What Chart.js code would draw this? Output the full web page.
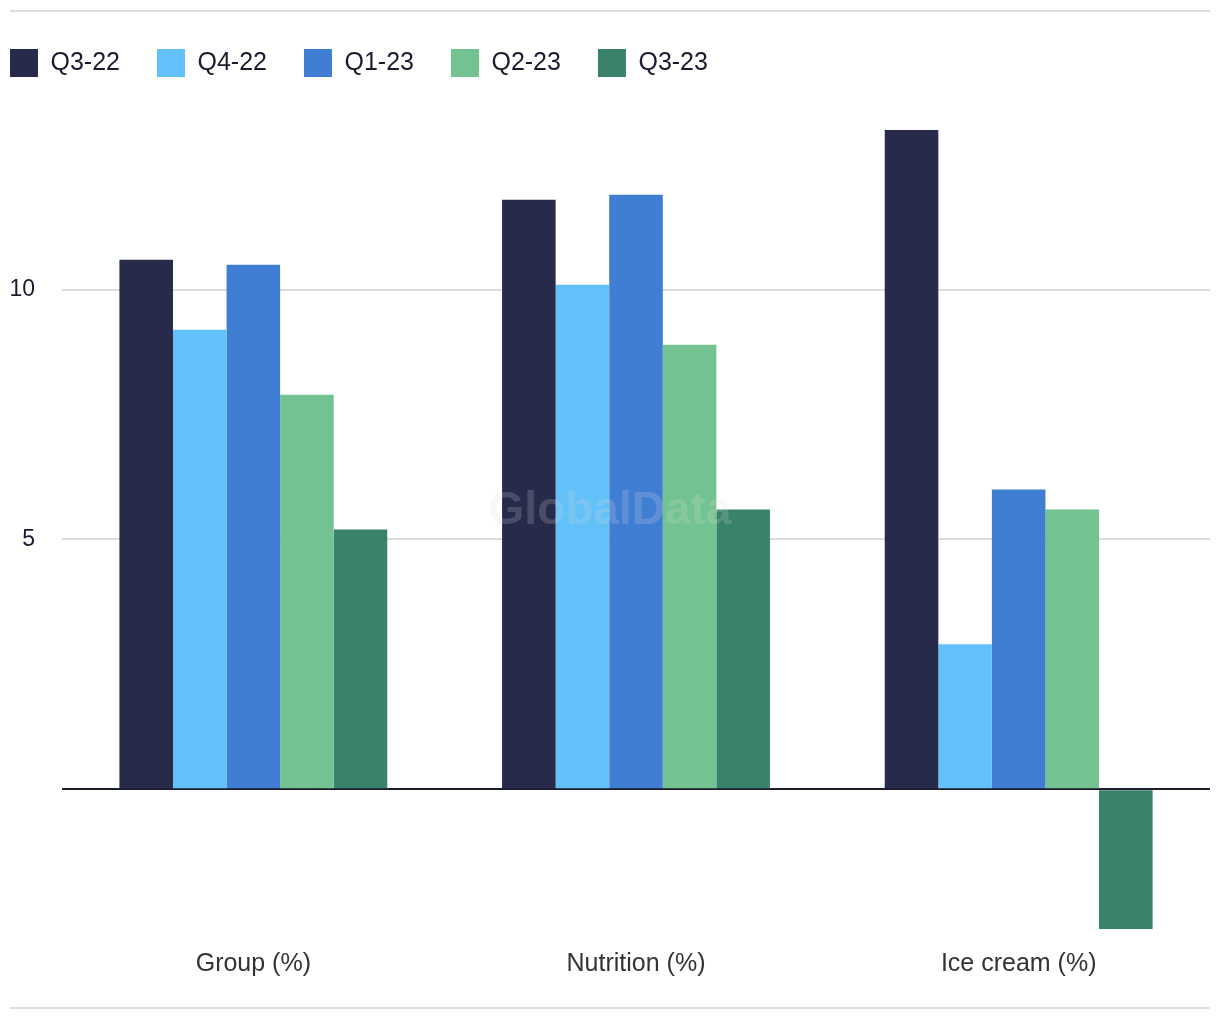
<!DOCTYPE html>
<html>
<head>
<meta charset="utf-8">
<script src="https://cdn.jsdelivr.net/npm/chart.js@4"></script>
<style>
  body { margin: 0; background: #fff; }
  #wrap { position: relative; width: 1220px; height: 1020px; }
  .rule { position: absolute; left: 10px; width: 1200px; height: 2px; background: #dedede; }
</style>
</head>
<body>
<div id="wrap">
  <div class="rule" style="top:10px"></div>
  <canvas id="chart" width="1220" height="1020"></canvas>
  <div class="rule" style="top:1007px"></div>
</div>
<script>
// categories and series (% growth)
const categories = ["Group (%)", "Nutrition (%)", "Ice cream (%)"];
const seriesNames = ["Q3-22", "Q4-22", "Q1-23", "Q2-23", "Q3-23"];
const q322 = [10.6, 11.8, 13.2];
const q422 = [9.2, 10.1, 2.9];
const q123 = [10.5, 11.9, 6.0];
const q223 = [7.9, 8.9, 5.6];
const q323 = [5.2, 5.6, -2.8];
const yTicks = [0, 5, 10];

const colors = ["#272a4b", "#62c1f9", "#407ed4", "#72c391", "#39826b"];
const seriesData = [q322, q422, q123, q223, q323];

const FONT = "'Liberation Sans', Arial, sans-serif";
const LEGEND_GAP = 37;

// faint brand watermark over the plot
const watermark = {
  id: "watermark",
  afterDatasetsDraw(chart) {
    const { ctx, chartArea } = chart;
    ctx.save();
    ctx.font = "bold 46px " + FONT;
    ctx.fillStyle = "rgba(220,220,220,0.2)";
    ctx.textAlign = "center";
    ctx.textBaseline = "middle";
    ctx.fillText("GlobalData", (chartArea.left + chartArea.right) / 2 - 26, 511);
    ctx.restore();
  },
};

new Chart(document.getElementById("chart"), {
  type: "bar",
  data: {
    labels: categories,
    datasets: seriesNames.map((name, i) => ({
      label: name,
      data: seriesData[i],
      backgroundColor: colors[i],
      borderWidth: 0,
      categoryPercentage: 0.7,
      barPercentage: 1.0,
    })),
  },
  options: {
    responsive: false,
    animation: false,
    layout: {
      // negative left so the legend starts at the page edge
      padding: { top: 12, right: 10, bottom: 0, left: 10 - LEGEND_GAP },
    },
    plugins: {
      legend: {
        position: "top",
        align: "start",
        labels: {
          boxWidth: 28,
          boxHeight: 28,
          padding: LEGEND_GAP,
          color: "#1b1b2f",
          font: { family: FONT, size: 25 },
        },
      },
      tooltip: { enabled: false },
    },
    scales: {
      x: {
        grid: { display: false },
        border: { display: false },
        ticks: {
          color: "#333333",
          padding: 12,
          font: { family: FONT, size: 25 },
        },
        afterFit: axis => { axis.height = 91; },
      },
      y: {
        min: -2.8,
        max: 14.06,
        afterBuildTicks: axis => {
          axis.ticks = yTicks.map(v => ({ value: v }));
        },
        border: { display: false },
        grid: {
          drawTicks: false,
          color: ctx => (ctx.tick && ctx.tick.value === 0 ? "#1d1d2d" : "#dcdcdc"),
          lineWidth: 2,
        },
        ticks: {
          padding: 27,
          color: "#1b1b2f",
          font: { family: FONT, size: 23 },
          callback: v => (v === 0 ? "" : v),
        },
        afterFit: axis => { axis.width = 62 - (10 - LEGEND_GAP); },
      },
    },
  },
  plugins: [watermark],
});
</script>
</body>
</html>
